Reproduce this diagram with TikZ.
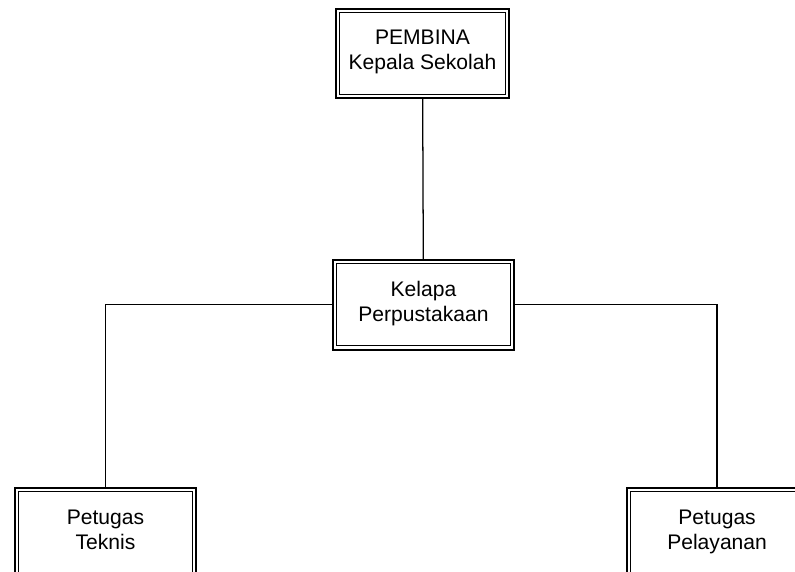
\documentclass[tikz,border=0pt]{standalone}
\usepackage{fontspec}
\setmainfont{Liberation Sans}
\usetikzlibrary{positioning}

\begin{document}
\begin{tikzpicture}[
                    node distance=4cm,
                    unit/.style={
                        rectangle,
                        draw=black, line width=1.5pt,
                        path picture={
                            \draw [line width=0.8pt]
                                ([shift={(2.7pt,-2.7pt)}]path picture bounding box.north west)
                                rectangle
                                ([shift={(-2.7pt,2.7pt)}]path picture bounding box.south east);
                            },
                        align=center,
                        inner sep=0pt,
                        execute at begin node=\strut,
                        execute at end node=\strut,
                        font=\fontsize{15}{17.8}\selectfont
                        },
                    link/.style={
                        draw=black, line width=0.9pt
                        }
                    ]
    % page frame (the bottom boxes run off the edge)
    \useasboundingbox (-10.5625,1.3375) rectangle (9.3125,-12.9375);
    \clip (-10.5625,1.3375) rectangle (9.3125,-12.9375);

    \node [unit, minimum width=4.32cm, minimum height=2.22cm] (pembina) at (0,0) {PEMBINA\\Kepala Sekolah};
    \node [unit, minimum width=4.52cm, minimum height=2.24cm, below=4.0cm of pembina, xshift=0.025cm] (kepala) {Kelapa\\Perpustakaan};
    \node [unit, minimum width=4.52cm, minimum height=2.27cm, below=3.41cm of kepala, xshift=-7.95cm] (teknis) {Petugas\\Teknis};
    \node [unit, minimum width=4.52cm, minimum height=2.27cm, below=3.41cm of kepala, xshift=7.34cm] (pelayanan) {Petugas\\Pelayanan};

    \draw [link] (pembina) -- (kepala);
    \draw [link] (kepala.west) -| (teknis.north);
    \draw [link] (kepala.east) -| (pelayanan.north);
\end{tikzpicture}
\end{document}
